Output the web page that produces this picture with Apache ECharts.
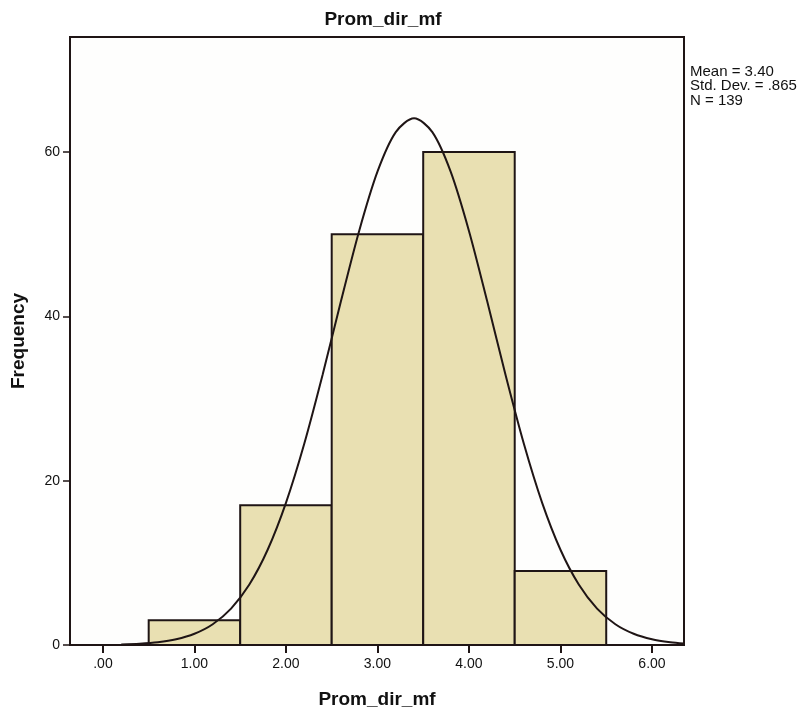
<!DOCTYPE html>
<html>
<head>
<meta charset="utf-8">
<script src="https://cdn.jsdelivr.net/npm/echarts@6/dist/echarts.min.js"></script>
<style>
html,body{margin:0;padding:0;background:#ffffff;}
#chart{width:806px;height:716px;}
</style>
</head>
<body>
<div id="chart"></div>
<script>
// ---- data ----
var binCenters = [1, 2, 3, 4, 5];
var binWidth = 1;
var counts = [3, 17, 50, 60, 9];
var xTicks = [0, 1, 2, 3, 4, 5, 6];
var xTickLabels = ['.00', '1.00', '2.00', '3.00', '4.00', '5.00', '6.00'];
var yTicks = [0, 20, 40, 60];
var yTickLabels = ['0', '20', '40', '60'];
// normal curve (Mean = 3.40, Std. Dev. = .865, N = 139)
var curveX = [0.2, 0.4, 0.6, 0.8, 1.0, 1.2, 1.4, 1.6, 1.8, 2.0, 2.2, 2.4, 2.6, 2.8, 3.0, 3.2, 3.4, 3.6, 3.8, 4.0, 4.2, 4.4, 4.6, 4.8, 5.0, 5.2, 5.4, 5.6, 5.8, 6.0, 6.2, 6.35];
var curveY = [0.07, 0.16, 0.34, 0.70, 1.37, 2.53, 4.43, 7.36, 11.59, 17.30, 24.49, 32.86, 41.80, 50.40, 57.61, 62.42, 64.11, 62.42, 57.61, 50.40, 41.80, 32.86, 24.49, 17.30, 11.59, 7.36, 4.43, 2.53, 1.37, 0.70, 0.34, 0.19];
var statsLines = ['Mean = 3.40', 'Std. Dev. = .865', 'N = 139'];
var titleText = 'Prom_dir_mf';
var xName = 'Prom_dir_mf';
var yName = 'Frequency';

var dark = '#1f1515';
var barFill = '#e9e0b2';

var histData = binCenters.map(function (c, i) { return [c - binWidth / 2, c + binWidth / 2, counts[i]]; });
var curveData = curveX.map(function (x, i) { return [x, curveY[i]]; });

var chart = echarts.init(document.getElementById('chart'), null, {renderer: 'canvas'});
chart.setOption({
  backgroundColor: '#ffffff',
  animation: false,
  title: {
    text: titleText,
    left: 378, top: 5, textAlign: 'center',
    textStyle: {fontFamily: 'Liberation Sans, Arial, sans-serif', fontSize: 19, fontWeight: 'bold', color: '#111'}
  },
  grid: {
    left: 70, right: 122, top: 37, bottom: 71,
    show: true, backgroundColor: '#fefefd', borderColor: dark, borderWidth: 2
  },
  xAxis: {
    type: 'value', min: -0.36, max: 6.35,
    name: xName, nameLocation: 'middle', nameGap: 45,
    nameTextStyle: {fontFamily: 'Liberation Sans, Arial, sans-serif', fontSize: 19, fontWeight: 'bold', color: '#111'},
    axisLine: {show: true, onZero: false, lineStyle: {color: dark, width: 2}},
    axisTick: {show: true, customValues: xTicks, length: 8, lineStyle: {color: dark, width: 2}},
    axisLabel: {
      customValues: xTicks, margin: 12, color: '#111', fontSize: 14,
      fontFamily: 'Liberation Sans, Arial, sans-serif',
      formatter: function (v) { return xTickLabels[xTicks.indexOf(Math.round(v))]; }
    },
    splitLine: {show: false}
  },
  yAxis: {
    type: 'value', min: 0, max: 74,
    name: yName, nameLocation: 'middle', nameGap: 42, nameRotate: 90,
    nameTextStyle: {fontFamily: 'Liberation Sans, Arial, sans-serif', fontSize: 19, fontWeight: 'bold', color: '#111'},
    axisLine: {show: true, onZero: false, lineStyle: {color: dark, width: 2}},
    axisTick: {show: true, customValues: yTicks, length: 7, lineStyle: {color: dark, width: 1.5}},
    axisLabel: {
      customValues: yTicks, margin: 10, color: '#111', fontSize: 14,
      fontFamily: 'Liberation Sans, Arial, sans-serif',
      formatter: function (v) { return yTickLabels[yTicks.indexOf(Math.round(v))]; }
    },
    splitLine: {show: false}
  },
  graphic: [{
    type: 'text', left: 690, top: 64,
    style: {
      text: statsLines.join('\n'),
      font: '15px "Liberation Sans", Arial, sans-serif',
      lineHeight: 14.5, fill: '#111'
    }
  }],
  series: [{
    type: 'custom',
    data: histData,
    encode: {x: [0, 1], y: 2},
    renderItem: function (params, api) {
      var p0 = api.coord([api.value(0), api.value(2)]);
      var p1 = api.coord([api.value(1), 0]);
      return {
        type: 'rect',
        shape: {x: p0[0], y: p0[1], width: p1[0] - p0[0], height: p1[1] - p0[1]},
        style: {fill: barFill, stroke: dark, lineWidth: 2}
      };
    },
    z: 2
  }, {
    type: 'line',
    data: curveData,
    smooth: 0.3,
    showSymbol: false,
    symbol: 'none',
    lineStyle: {color: dark, width: 2},
    z: 3
  }]
});
</script>
</body>
</html>
